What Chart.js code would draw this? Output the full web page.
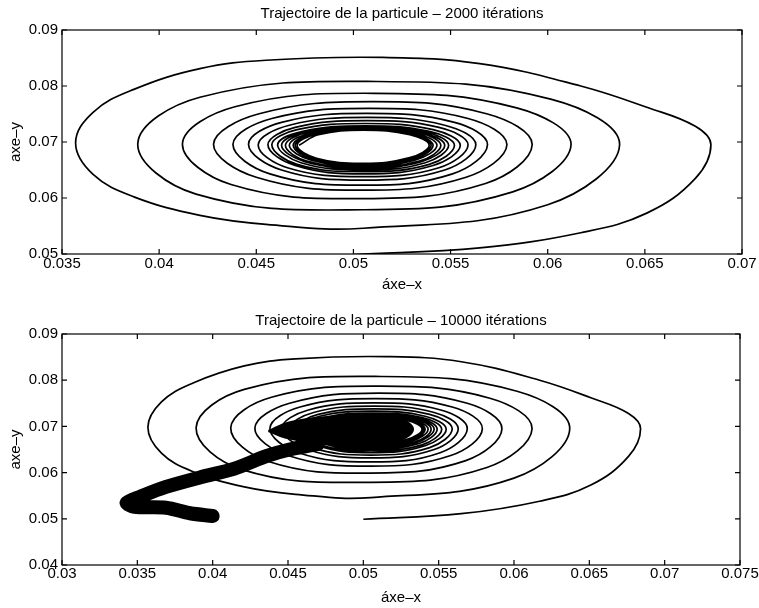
<!DOCTYPE html>
<html>
<head>
<meta charset="utf-8">
<script src="https://cdn.jsdelivr.net/npm/chart.js@4/dist/chart.umd.min.js"></script>
<style>
html,body{margin:0;padding:0;background:#fff;width:759px;height:608px;overflow:hidden;}
.w{position:absolute;left:0;width:759px;}
#w1{top:0;height:300px;}
#w2{top:300px;height:308px;}
</style>
</head>
<body>
<div class="w" id="w1"><canvas id="c1" width="759" height="300"></canvas></div>
<div class="w" id="w2"><canvas id="c2" width="759" height="308"></canvas></div>
<script>
// ---- text ----
const titleTop = 'Trajectoire de la particule – 2000 itérations';
const titleBottom = 'Trajectoire de la particule – 10000 itérations';
const xAxisTitle = 'áxe–x';
const yAxisTitle = 'axe–y';

// ---- tick values ----
const xTicksTop = [0.035, 0.04, 0.045, 0.05, 0.055, 0.06, 0.065, 0.07];
const yTicksTop = [0.05, 0.06, 0.07, 0.08, 0.09];
const xTicksBottom = [0.03, 0.035, 0.04, 0.045, 0.05, 0.055, 0.06, 0.065, 0.07, 0.075];
const yTicksBottom = [0.04, 0.05, 0.06, 0.07, 0.08, 0.09];

// ---- spiral trajectory: first turn read densely, then 8 points per turn (SE, right, NE, top, NW, left, SW, bottom) ----
const spiralX = [
  0.0500, 0.0565, 0.0617, 0.0651, 0.0676,
  0.0684, 0.0676, 0.0651, 0.0617, 0.0565, 0.0515, 0.0455, 0.0421, 0.0387, 0.0366,
  0.0357, 0.0366, 0.0387, 0.0421, 0.0455, 0.0505,
  0.0600, 0.0637, 0.0602, 0.0512, 0.0421, 0.0389, 0.0419, 0.0505,
  0.0582, 0.0612, 0.0584, 0.0511, 0.0439, 0.0412, 0.0437, 0.0505,
  0.0568, 0.0592, 0.0569, 0.0510, 0.0451, 0.0428, 0.0450, 0.0505,
  0.0558, 0.0579, 0.0559, 0.0508, 0.0458, 0.0438, 0.0457, 0.0505,
  0.0551, 0.0569, 0.0552, 0.0507, 0.0463, 0.0446, 0.0463, 0.0505,
  0.0547, 0.0563, 0.0547, 0.0507, 0.0467, 0.0451, 0.0466, 0.0505,
  0.0544, 0.0559, 0.0544, 0.0507, 0.0470, 0.0456, 0.0470, 0.0505,
  0.0541, 0.0555, 0.0541, 0.0506, 0.0471, 0.0458, 0.0471, 0.0505,
  0.0539, 0.0552, 0.0539, 0.0506, 0.0474, 0.0461, 0.0473, 0.0505,
  0.0537, 0.0549, 0.0537, 0.0506, 0.0475, 0.0463, 0.0475, 0.0505,
  0.0535, 0.0547, 0.0535, 0.0505, 0.0476, 0.0465, 0.0476, 0.0505,
  0.0534, 0.0545, 0.0534, 0.0505, 0.0478, 0.0467, 0.0478, 0.0505,
  0.0532, 0.0543, 0.0532, 0.0505, 0.0479, 0.0469, 0.0479, 0.0505,
  0.0531, 0.0541, 0.0531, 0.0505, 0.0480, 0.0470, 0.0480, 0.0505,
  0.0530, 0.0540, 0.0530, 0.0505, 0.0481, 0.0471, 0.0481, 0.0505,
  0.0529, 0.0539, 0.0529, 0.0505, 0.0482, 0.0472
];
const spiralY = [
  0.0499, 0.0511, 0.0538, 0.0573, 0.0635,
  0.0695, 0.0728, 0.0762, 0.0800, 0.0840, 0.0851, 0.0846, 0.0831, 0.0794, 0.0753,
  0.0698, 0.0642, 0.0602, 0.0569, 0.0553, 0.0546,
  0.0588, 0.0695, 0.0776, 0.0808, 0.0780, 0.0697, 0.0607, 0.0579,
  0.0611, 0.0695, 0.0761, 0.0787, 0.0763, 0.0697, 0.0624, 0.0599,
  0.0626, 0.0695, 0.0750, 0.0772, 0.0750, 0.0696, 0.0637, 0.0614,
  0.0637, 0.0695, 0.0742, 0.0760, 0.0742, 0.0696, 0.0643, 0.0623,
  0.0643, 0.0695, 0.0735, 0.0751, 0.0735, 0.0696, 0.0650, 0.0632,
  0.0650, 0.0695, 0.0730, 0.0744, 0.0730, 0.0695, 0.0654, 0.0638,
  0.0654, 0.0695, 0.0726, 0.0738, 0.0726, 0.0695, 0.0658, 0.0643,
  0.0658, 0.0694, 0.0722, 0.0733, 0.0722, 0.0695, 0.0660, 0.0647,
  0.0660, 0.0694, 0.0719, 0.0729, 0.0719, 0.0695, 0.0663, 0.0650,
  0.0663, 0.0694, 0.0718, 0.0727, 0.0718, 0.0694, 0.0665, 0.0653,
  0.0665, 0.0694, 0.0717, 0.0725, 0.0717, 0.0694, 0.0666, 0.0655,
  0.0666, 0.0694, 0.0716, 0.0724, 0.0716, 0.0694, 0.0668, 0.0657,
  0.0668, 0.0694, 0.0715, 0.0723, 0.0715, 0.0694, 0.0669, 0.0659,
  0.0669, 0.0694, 0.0714, 0.0722, 0.0714, 0.0694, 0.0671, 0.0661,
  0.0671, 0.0694, 0.0714, 0.0721, 0.0714, 0.0694, 0.0671, 0.0662,
  0.0672, 0.0694, 0.0713, 0.0721, 0.0713, 0.0694
];

// ---- 10000 iterations: densely filled core and drifting band ----
const coreX = [0.0437, 0.0450, 0.0475, 0.0505, 0.0524, 0.0533, 0.0524, 0.0500, 0.0468, 0.0448, 0.0437];
const coreY = [0.0690, 0.0708, 0.0720, 0.0724, 0.0717, 0.0694, 0.0670, 0.0661, 0.0665, 0.0676, 0.0690];
const driftX = [0.0470, 0.0451, 0.0436, 0.0414, 0.0392, 0.0369, 0.0352, 0.0343, 0.0348, 0.0369, 0.0385, 0.0400];
const driftY = [0.0662, 0.0650, 0.0636, 0.0608, 0.0590, 0.0569, 0.0548, 0.0535, 0.0526, 0.0524, 0.0512, 0.0506];

// ---- helpers ----
const pts = (xs, ys) => xs.map((x, i) => ({ x: x, y: ys[i] }));
const fmt = v => String(+v.toFixed(4));
const FONT = '"Liberation Sans", Arial, Helvetica, sans-serif';
Chart.defaults.font.family = FONT;
Chart.defaults.color = '#000';

const boxTicks = {
  id: 'boxTicks',
  afterDatasetsDraw(chart) {
    const { ctx, chartArea: a, scales: { x, y } } = chart;
    const L = 5;
    ctx.save();
    ctx.strokeStyle = '#000';
    ctx.lineWidth = 1.2;
    ctx.strokeRect(a.left, a.top, a.right - a.left, a.bottom - a.top);
    ctx.beginPath();
    x.ticks.forEach(t => {
      const p = x.getPixelForValue(t.value);
      ctx.moveTo(p, a.top); ctx.lineTo(p, a.top + L);
      ctx.moveTo(p, a.bottom); ctx.lineTo(p, a.bottom - L);
    });
    y.ticks.forEach(t => {
      const p = y.getPixelForValue(t.value);
      ctx.moveTo(a.left, p); ctx.lineTo(a.left + L, p);
      ctx.moveTo(a.right, p); ctx.lineTo(a.right - L, p);
    });
    ctx.stroke();
    ctx.restore();
  }
};

function makeChart(id, title, xt, yt, datasets, geo) {
  return new Chart(document.getElementById(id), {
    type: 'scatter',
    data: { datasets: datasets },
    options: {
      responsive: false,
      animation: false,
      devicePixelRatio: 1,
      layout: { padding: { left: 0, right: geo.right, top: 0, bottom: 0 } },
      plugins: {
        legend: { display: false },
        tooltip: { enabled: false },
        title: {
          display: true, text: title, color: '#000', fullSize: false,
          font: { size: 15, weight: 'normal', family: FONT },
          padding: { top: geo.titleTop, bottom: geo.titleBottom }
        }
      },
      scales: {
        x: {
          type: 'linear', min: xt[0], max: xt[xt.length - 1],
          afterBuildTicks: s => { s.ticks = xt.map(v => ({ value: v })); },
          afterFit: s => { s.height = geo.xHeight; },
          grid: { display: false, drawTicks: false, tickLength: 0 },
          border: { display: false },
          ticks: { font: { size: 15 }, color: '#000', padding: geo.xPad, maxRotation: 0, autoSkip: false, callback: v => fmt(v) },
          title: { display: true, text: xAxisTitle, color: '#000', font: { size: 15 }, padding: { top: 0, bottom: geo.xTitlePad } }
        },
        y: {
          type: 'linear', min: yt[0], max: yt[yt.length - 1],
          afterBuildTicks: s => { s.ticks = yt.map(v => ({ value: v })); },
          afterFit: s => { s.width = 62; },
          grid: { display: false, drawTicks: false, tickLength: 0 },
          border: { display: false },
          ticks: { font: { size: 15 }, color: '#000', padding: 4, autoSkip: false, callback: v => fmt(v) },
          title: { display: true, text: yAxisTitle, color: '#000', font: { size: 15 }, padding: { top: 7, bottom: 0 } }
        }
      },
      elements: { point: { radius: 0, hoverRadius: 0 } }
    },
    plugins: [boxTicks]
  });
}

const spiral = () => ({ data: pts(spiralX, spiralY), showLine: true, borderColor: '#000', borderWidth: 1.7, pointRadius: 0, fill: false, tension: 0.4 });

makeChart('c1', titleTop, xTicksTop, yTicksTop, [spiral()],
  { right: 17, titleTop: 5, titleBottom: 7, xHeight: 46, xPad: 1, xTitlePad: 6 });

makeChart('c2', titleBottom, xTicksBottom, yTicksBottom, [
  { data: pts(driftX, driftY), showLine: true, borderColor: '#000', borderWidth: 14, borderCapStyle: 'round', borderJoinStyle: 'round', tension: 0.3, pointRadius: 0, fill: false },
  { data: pts(coreX, coreY), showLine: true, borderColor: '#000', backgroundColor: '#000', borderWidth: 2, tension: 0.4, pointRadius: 0, fill: 'shape' },
  spiral()
], { right: 19, titleTop: 12, titleBottom: 4, xHeight: 43, xPad: 0, xTitlePad: 1 });
</script>
</body>
</html>
